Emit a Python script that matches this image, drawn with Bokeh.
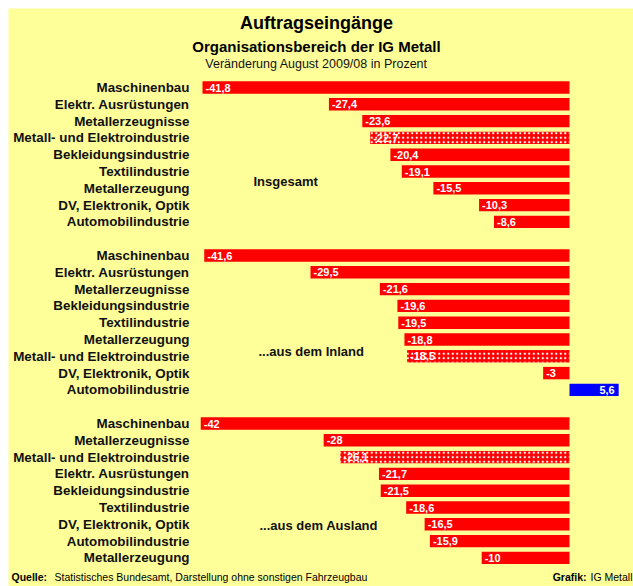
from bokeh.plotting import figure
from bokeh.models import Range1d, ColumnDataSource
from bokeh.core.properties import value
from bokeh.embed import file_html
from bokeh.resources import INLINE

# ---------------- data ----------------
title = "Auftragseingänge"
subtitle = "Organisationsbereich der IG Metall"
subsubtitle = "Veränderung August 2009/08 in Prozent"

group_names = ["Insgesamt", "...aus dem Inland", "...aus dem Ausland"]

g1_labels = ["Maschinenbau", "Elektr. Ausrüstungen", "Metallerzeugnisse",
             "Metall- und Elektroindustrie", "Bekleidungsindustrie", "Textilindustrie",
             "Metallerzeugung", "DV, Elektronik, Optik", "Automobilindustrie"]
g1_values = [-41.8, -27.4, -23.6, -22.7, -20.4, -19.1, -15.5, -10.3, -8.6]

g2_labels = ["Maschinenbau", "Elektr. Ausrüstungen", "Metallerzeugnisse",
             "Bekleidungsindustrie", "Textilindustrie", "Metallerzeugung",
             "Metall- und Elektroindustrie", "DV, Elektronik, Optik", "Automobilindustrie"]
g2_values = [-41.6, -29.5, -21.6, -19.6, -19.5, -18.8, -18.5, -3, 5.6]

g3_labels = ["Maschinenbau", "Metallerzeugnisse", "Metall- und Elektroindustrie",
             "Elektr. Ausrüstungen", "Bekleidungsindustrie", "Textilindustrie",
             "DV, Elektronik, Optik", "Automobilindustrie", "Metallerzeugung"]
g3_values = [-42, -28, -26.1, -21.7, -21.5, -18.6, -16.5, -15.9, -10]

total_label = "Metall- und Elektroindustrie"

source_note_bold = "Quelle:"
source_note = "Statistisches Bundesamt, Darstellung ohne sonstigen Fahrzeugbau"
credit_bold = "Grafik:"
credit = "IG Metall"

# ---------------- layout ----------------
MARGIN = 8
W, H = 625, 578        # yellow frame size
ZERO_PX = 561.0        # zero line, px from frame left
PX_PER_UNIT = 8.78
ROW0_PX = 79.0         # center of first row, px from frame top
ROW_PX = 16.8

x0 = -ZERO_PX / PX_PER_UNIT
x1 = (W - ZERO_PX) / PX_PER_UNIT
y_top = -ROW0_PX / ROW_PX
y_bot = (H - ROW0_PX) / ROW_PX


def px_x(px):
    return x0 + px / PX_PER_UNIT


def px_y(py):
    return (py - ROW0_PX) / ROW_PX


def fmt(v):
    s = ("%g" % v)
    return s.replace(".", ",")


groups = [(g1_labels, g1_values), (g2_labels, g2_values), (g3_labels, g3_values)]

rows = dict(y=[], left=[], right=[], label=[], val=[], txt=[], color=[], hatch=[])
slot = 0
group_slots = []
for gi, (labs, vals) in enumerate(groups):
    group_slots.append(slot)
    for lab, v in zip(labs, vals):
        rows["y"].append(slot)
        rows["left"].append(min(v, 0))
        rows["right"].append(max(v, 0))
        rows["label"].append(lab)
        rows["val"].append(v)
        rows["txt"].append(fmt(v))
        rows["color"].append("#0000FF" if v > 0 else "#FF0000")
        rows["hatch"].append("dot" if lab == total_label else " ")
        slot += 1
    slot += 1

src = ColumnDataSource(rows)

BG = "#FFFF99"
p = figure(width=W + MARGIN, height=H + MARGIN, x_range=Range1d(x0, x1),
           y_range=Range1d(y_bot, y_top),
           output_backend="svg", toolbar_location=None,
           min_border_left=MARGIN, min_border_top=MARGIN,
           min_border_right=0, min_border_bottom=0,
           background_fill_color=BG, border_fill_color="white", outline_line_color=None)
p.xaxis.visible = False
p.yaxis.visible = False
p.xgrid.visible = False
p.ygrid.visible = False

p.hbar(y="y", left="left", right="right", height=0.74, source=src,
       fill_color="color", line_color=None,
       hatch_pattern="hatch", hatch_color="white", hatch_scale=4.5, hatch_weight=1)

FONT = value("Liberation Sans")

# category labels
p.text(x=px_x(181), y="y", text="label", source=src, text_font=FONT,
       text_font_style="bold", text_font_size="13.4px", text_align="right",
       text_baseline="middle", text_color="#111111")

# value labels
neg = ColumnDataSource({k: [rows[k][i] for i in range(len(rows["y"])) if rows["val"][i] < 0]
                        for k in rows})
pos = ColumnDataSource({k: [rows[k][i] for i in range(len(rows["y"])) if rows["val"][i] >= 0]
                        for k in rows})
p.text(x="left", y="y", text="txt", source=neg, x_offset=3, text_font=FONT,
       text_font_style="bold", text_font_size="11px", text_align="left",
       text_baseline="middle", text_color="white")
p.text(x="right", y="y", text="txt", source=pos, x_offset=-4, text_font=FONT,
       text_font_style="bold", text_font_size="11px", text_align="right",
       text_baseline="middle", text_color="white")

# group labels
gx = [px_x(245), px_x(250), px_x(251)]
gy = [group_slots[0] + 5.6, group_slots[1] + 5.7, group_slots[2] + 6.1]
p.text(x=gx, y=gy, text=group_names, text_font=FONT, text_font_style="bold",
       text_font_size="13px", text_align="left", text_baseline="middle",
       text_color="#111111")

# titles
cx = px_x(308)
p.text(x=[cx], y=[px_y(14)], text=[title], text_font=FONT, text_font_style="bold",
       text_font_size="18px", text_align="center", text_baseline="middle", text_color="black")
p.text(x=[cx], y=[px_y(38)], text=[subtitle], text_font=FONT, text_font_style="bold",
       text_font_size="15px", text_align="center", text_baseline="middle", text_color="black")
p.text(x=[cx], y=[px_y(55)], text=[subsubtitle], text_font=FONT,
       text_font_size="12.5px", text_align="center", text_baseline="middle", text_color="#111111")

# footer
fy = px_y(568)
p.text(x=[px_x(3)], y=[fy], text=[source_note_bold], text_font=FONT, text_font_style="bold",
       text_font_size="10.5px", text_align="left", text_baseline="middle", text_color="black")
p.text(x=[px_x(46)], y=[fy], text=[source_note], text_font=FONT,
       text_font_size="10.5px", text_align="left", text_baseline="middle", text_color="black")
p.text(x=[px_x(578)], y=[fy], text=[credit_bold], text_font=FONT, text_font_style="bold",
       text_font_size="10.5px", text_align="right", text_baseline="middle", text_color="black")
p.text(x=[px_x(624)], y=[fy], text=[credit], text_font=FONT,
       text_font_size="10.5px", text_align="right", text_baseline="middle", text_color="black")

open("out.html", "w").write(file_html(p, INLINE))
